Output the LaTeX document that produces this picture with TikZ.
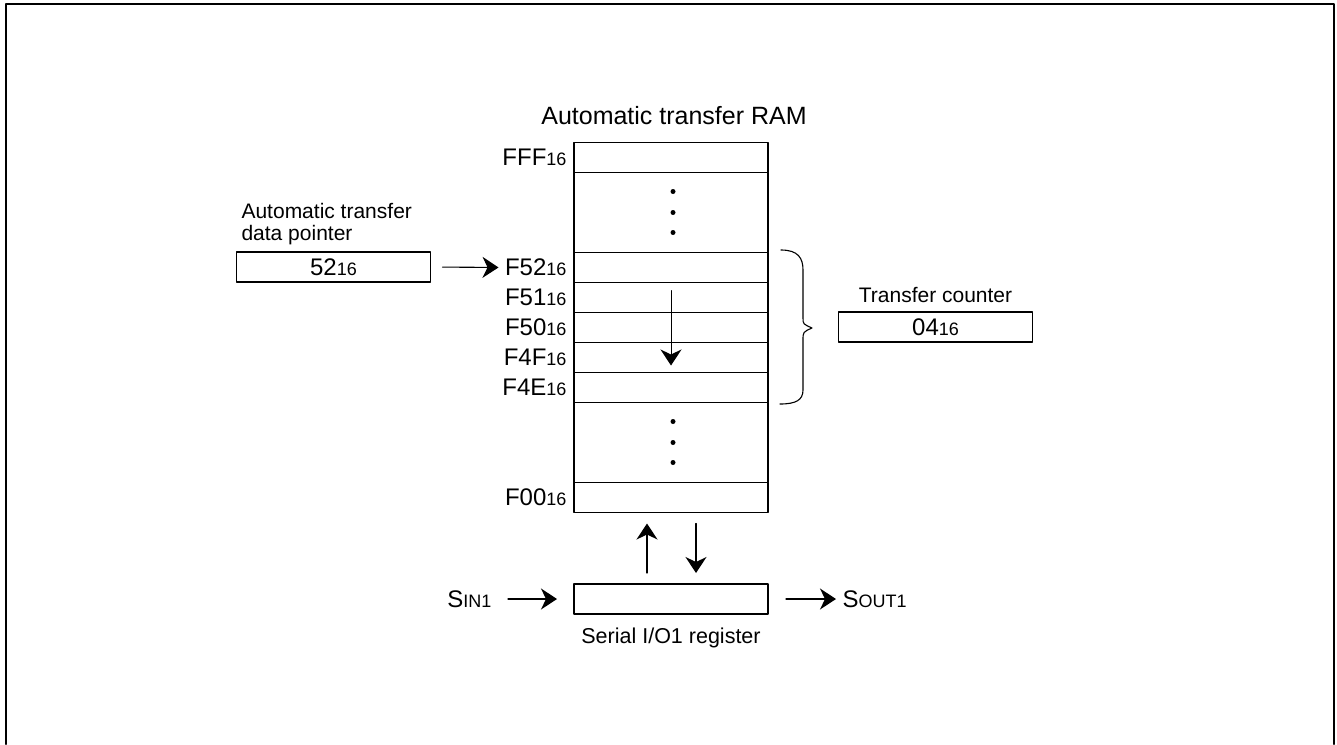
\documentclass[tikz,border=0pt]{standalone}
\usepackage{fontspec}
\setmainfont{Liberation Sans}
\usetikzlibrary{positioning,arrows.meta}
\newcommand{\hexsub}{{\fontsize{18}{18}\selectfont 16}}
\newcommand{\lowtxt}[1]{{\fontsize{18}{18}\selectfont #1}}
\tikzset{
	row/.style={draw, minimum width=194pt, minimum height=30pt, inner sep=0pt, outer sep=0pt},
	gapblock/.style={row, minimum height=80pt},
	addr/.style={inner sep=0pt, font=\fontsize{24}{28}\selectfont},
	valbox/.style={row, font=\fontsize{24}{28}\selectfont},
	labeltxt/.style={inner sep=0pt, font=\fontsize{21}{22}\selectfont},
}
\begin{document}
\begin{tikzpicture}[x=1pt, y=-1pt, line width=1.1pt, line cap=round, line join=round, >={Stealth[length=16pt,width=21pt,inset=5pt]}]
				\useasboundingbox (0,0) rectangle (1337,744);
				\draw[line width=2pt] (6,744)--(6,4)--(1334,4)--(1334,744);
				% RAM column
				\node[labeltxt, font=\fontsize{25}{30}\selectfont] (title) at (674,116) {Automatic transfer RAM};
				\node[row] (fff) at (671,157.5) {};
				\node[gapblock, below=0pt of fff] (gapA) {};
				\node[row, below=0pt of gapA] (f52) {};
				\node[row, below=0pt of f52] (f51) {};
				\node[row, below=0pt of f51] (f50) {};
				\node[row, below=0pt of f50] (f4f) {};
				\node[row, below=0pt of f4f] (f4e) {};
				\node[gapblock, below=0pt of f4e] (gapB) {};
				\node[row, below=0pt of gapB] (f00) {};
				\node[addr, left=7pt of fff] (aFFF) {FFF\hexsub};
				\node[addr, left=7pt of f52] (aF52) {F52\hexsub};
				\node[addr, left=7pt of f51] (aF51) {F51\hexsub};
				\node[addr, left=7pt of f50] (aF50) {F50\hexsub};
				\node[addr, left=7pt of f4f] (aF4F) {F4F\hexsub};
				\node[addr, left=7pt of f4e] (aF4E) {F4E\hexsub};
				\node[addr, left=7pt of f00] (aF00) {F00\hexsub};
				\foreach \g in {gapA,gapB}
					\foreach \d in {-20,0,21}
						\fill ([xshift=2pt, yshift=\d pt]\g.center) circle (2.5pt);
				\draw[->, line width=1pt] ([yshift=7pt]f51.center) -- ([yshift=-8pt]f4f.center);
				% data pointer
				\node[valbox] (ptr) at (333.5,267) {52\hexsub};
				\node[labeltxt, align=left, anchor=south west] (ptrlbl) at (241,245) {Automatic transfer\\data pointer};
				\draw[->, shorten <=12pt, shorten >=6pt] (ptr.east) -- (aF52.west);
				% transfer counter
				\draw (781,250) .. controls (798,250) and (803,258) .. (803,270) -- (803,318) .. controls (803,324) .. (812,328) .. controls (803,332) .. (803,340) -- (803,390) .. controls (803,400) and (796,404) .. (780,404);
				\node[valbox] (cnt) at (935.5,327) {04\hexsub};
				\node[labeltxt, above=9pt of cnt] (cntlbl) {Transfer counter};
				% serial I/O1
				\node[row] (sio) at (671,599) {};
				\node[labeltxt, font=\fontsize{21.5}{24}\selectfont, below=13pt of sio] (siolbl) {Serial I/O1 register};
				\node[addr, anchor=east] (sin) at (492,599) {S\lowtxt{IN1}};
				\node[addr, anchor=west] (sout) at (842,599) {S\lowtxt{OUT1}};
				\draw[->, shorten <=16pt, shorten >=17pt] (sin.east) -- (sio.west);
				\draw[->, shorten <=18pt, shorten >=6pt] (sio.east) -- (sout.west);
				\draw[->] ([xshift=-24pt, yshift=11pt]sio.north) -- ([xshift=-24pt, yshift=-11pt]f00.south);
				\draw[->] ([xshift=25pt, yshift=-11pt]f00.south) -- ([xshift=25pt, yshift=11pt]sio.north);
			\end{tikzpicture}
\end{document}
